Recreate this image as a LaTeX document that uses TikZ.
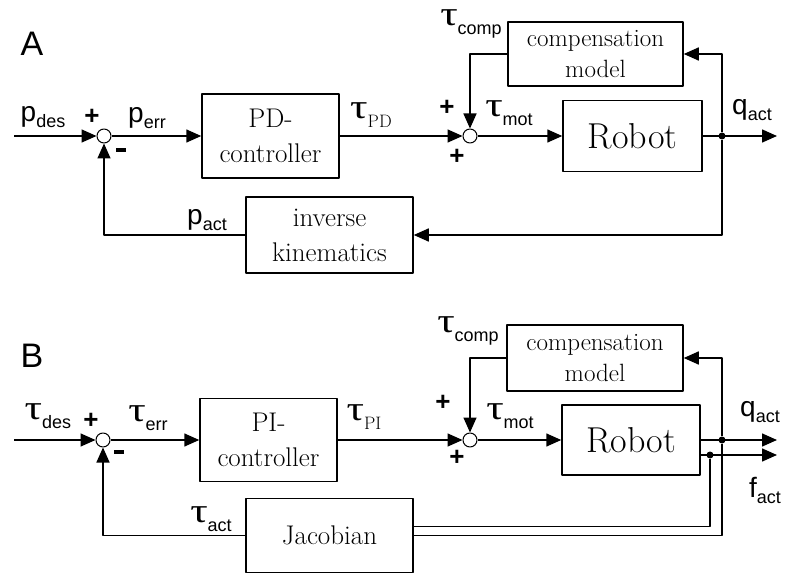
\documentclass[tikz,border=0pt]{standalone}
\usepackage{fontspec}
\setsansfont{Liberation Sans}
\newfontfamily\taufont{Liberation Serif}
\usetikzlibrary{arrows.meta}

% signal name with a lowered subscript
\newcommand{\sig}[3][6pt]{{\fontsize{28}{28}\selectfont #2}\raisebox{-#1}{\fontsize{18}{18}\selectfont #3}}
\newcommand{\tq}{{\taufont\fontsize{30}{30}\selectfont\scalebox{1.45}[1.15]{τ}}}
\newcommand{\minus}{\rule{10pt}{3.5pt}}

\begin{document}
\begin{tikzpicture}[x=1pt, y=1pt, line join=round, >={Triangle[length=15pt,width=13pt]},
  block/.style={draw, line width=1.5pt, align=center, inner sep=0pt, font=\fontsize{27}{35}\selectfont},
  sumnode/.style={circle, draw, line width=1pt, fill=white, minimum size=14pt, inner sep=0pt},
  junc/.style={circle, fill, minimum size=7pt, inner sep=0pt},
  wire/.style={line width=1.5pt},
  sgn/.style={font=\sffamily\bfseries\fontsize{26}{26}\selectfont, inner sep=0pt},
  lbl/.style={font=\sffamily, inner sep=0pt}]
  \useasboundingbox (0,0) rectangle (788,574);

  % ========================================================
  % A. POSITION CONTROL
  % ========================================================
  \node[lbl, font=\sffamily\fontsize{34}{34}\selectfont] (labA) at (32,530) {A};

  \coordinate (inA) at (14,438);
  \node[sumnode] (s1A) at (104,438) {};
  \node[block, minimum width=137pt, minimum height=84pt] (pdA) at (270.5,438) {PD-\\controller};
  \node[sumnode] (s2A) at (470,438) {};
  \node[block, minimum width=175pt, minimum height=64pt, font=\fontsize{25}{31}\selectfont] (cmpA) at (595.5,520) {compensation\\model};
  \node[block, minimum width=139pt, minimum height=71pt, font=\fontsize{36}{36}\selectfont] (robA) at (632.5,438) {Robot};
  \node[junc] (dA) at (722,438) {};
  \coordinate (outA) at (777,438);
  \node[block, minimum width=167pt, minimum height=76pt] (ikA) at (329.5,339) {inverse\\kinematics};

  \draw[wire,->] (inA) -- (s1A);
  \draw[wire,->] (s1A) -- (pdA);
  \draw[wire,->] (pdA) -- (s2A);
  \draw[wire,->] (s2A) -- (robA);
  \draw[wire,->] (robA) -- (outA);
  \draw[wire,->] (dA) |- (cmpA);
  \draw[wire,->] (cmpA) -| (s2A);
  \draw[wire,->] (dA) |- (ikA);
  \draw[wire,->] (ikA) -| (s1A);

  % signal labels
  \node[lbl] (pdes) at (43,457) {\sig{p}{des}};
  \node[sgn] (plA1) at (92,457) {+};
  \node[lbl] (perr) at (147,456) {\sig{p}{err}};
  \node[sgn] (miA) at (121,424) {\minus};
  \node[lbl] (tpd) at (371,459) {\sig[9pt]{\tq}{\rmfamily PD}};
  \node[lbl] (tcmpA) at (471,550) {\sig[9pt]{\tq}{comp}};
  \node[sgn] (plA2) at (447,466) {+};
  \node[sgn] (plA3) at (457,417) {+};
  \node[lbl] (tmotA) at (509,461) {\sig[9pt]{\tq}{mot}};
  \node[lbl] (qactA) at (752,464) {\sig{q}{act}};
  \node[lbl] (pact) at (207,354) {\sig{p}{act}};

  % ========================================================
  % B. FORCE CONTROL
  % ========================================================
  \node[lbl, font=\sffamily\fontsize{34}{34}\selectfont] (labB) at (32,218) {B};

  \coordinate (inB) at (14,134);
  \node[sumnode] (s1B) at (103,134) {};
  \node[block, minimum width=137pt, minimum height=83pt] (piB) at (268.5,134) {PI-\\controller};
  \node[sumnode] (s2B) at (470,134) {};
  \node[block, minimum width=176pt, minimum height=66pt, font=\fontsize{25}{31}\selectfont] (cmpB) at (595,216) {compensation\\model};
  \node[block, minimum width=138pt, minimum height=70pt, font=\fontsize{36}{36}\selectfont] (robB) at (631,134) {Robot};
  \node[junc] (dqB) at (722,134) {};
  \node[junc] (dfB) at (710,119) {};
  \coordinate (outqB) at (777,134);
  \coordinate (outfB) at (777,119);
  \node[block, minimum width=167pt, minimum height=74pt] (jacB) at (329.5,38.5) {Jacobian};

  \draw[wire,->] (inB) -- (s1B);
  \draw[wire,->] (s1B) -- (piB);
  \draw[wire,->] (piB) -- (s2B);
  \draw[wire,->] (s2B) -- (robB);
  \draw[wire,->] (robB) -- (outqB);
  \draw[wire,->] (robB.east |- dfB) -- (outfB);
  \draw[wire,->] (dqB) |- (cmpB);
  \draw[wire,->] (cmpB) -| (s2B);
  \draw[wire] (dqB) |- (jacB);
  \draw[wire] (dfB) |- ([yshift=9pt]jacB.east);
  \draw[wire,->] (jacB) -| (s1B);

  % signal labels
  \node[lbl] (tdes) at (48,158) {\sig[9pt]{\tq}{des}};
  \node[sgn] (plB1) at (91,153) {+};
  \node[lbl] (terr) at (148,156) {\sig[9pt]{\tq}{err}};
  \node[sgn] (miB) at (119,122) {\minus};
  \node[lbl] (tpi) at (364,157) {\sig[9pt]{\tq}{\rmfamily PI}};
  \node[lbl] (tcmpB) at (468,243) {\sig[9pt]{\tq}{comp}};
  \node[sgn] (plB2) at (443,171) {+};
  \node[sgn] (plB3) at (457,116) {+};
  \node[lbl] (tmotB) at (510,158) {\sig[9pt]{\tq}{mot}};
  \node[lbl] (qactB) at (760,162) {\sig{q}{act}};
  \node[lbl] (factB) at (765,84) {\sig{f}{act}};
  \node[lbl] (tact) at (211,55) {\sig[9pt]{\tq}{act}};

\end{tikzpicture}
\end{document}
